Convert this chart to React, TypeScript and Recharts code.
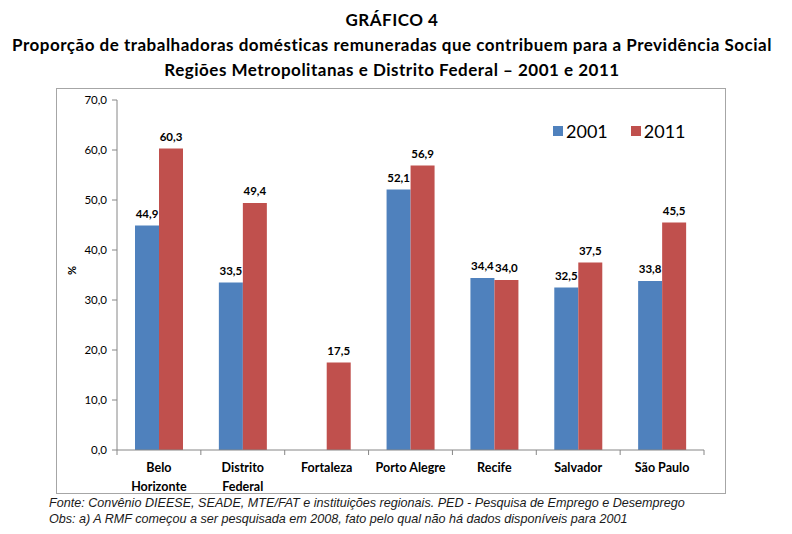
import { BarChart, Bar, XAxis, YAxis, LabelList, Legend } from 'recharts';

const regions = ['Belo Horizonte', 'Distrito Federal', 'Fortaleza', 'Porto Alegre', 'Recife', 'Salvador', 'São Paulo'];
const regionLines = [['Belo', 'Horizonte'], ['Distrito', 'Federal'], ['Fortaleza'], ['Porto Alegre'], ['Recife'], ['Salvador'], ['São Paulo']];
const values2001 = [44.9, 33.5, null, 52.1, 34.4, 32.5, 33.8];
const values2011 = [60.3, 49.4, 17.5, 56.9, 34.0, 37.5, 45.5];
const yTicks = [0, 10, 20, 30, 40, 50, 60, 70];

const BLUE = '#4F81BD';
const RED = '#C0504D';
const AXIS = '#868686';

const data = regions.map((name, i) => ({
    name,
    lines: regionLines[i],
    y2001: values2001[i],
    y2011: values2011[i],
}));

const fmt = (v: number) => v.toFixed(1).replace('.', ',');

// eslint-disable-next-line @typescript-eslint/no-explicit-any
function ValueLabel(props: any) {
    const { x, y, width, value } = props;
    if (value == null) return null;
    return (
        <text x={x + width / 2} y={y - 8} textAnchor="middle" fontFamily="Lato" fontWeight={700} fontSize={11.5} fill="#000">
            {fmt(Number(value))}
        </text>
    );
}

// eslint-disable-next-line @typescript-eslint/no-explicit-any
function CategoryTick(props: any) {
    const { x, y, payload, index, width, visibleTicksCount } = props;
    const half = width / visibleTicksCount / 2;
    const lines: string[] = data[index]?.lines ?? [payload.value];
    return (
        <g>
            {index === 0 && <line x1={x - half} x2={x - half} y1={y - 8} y2={y - 3} stroke={AXIS} />}
            <line x1={x + half} x2={x + half} y1={y - 8} y2={y - 3} stroke={AXIS} />
            {lines.map((l, k) => (
                <text key={k} x={x} y={y + 14 + k * 19} textAnchor="middle" fontFamily="Lato" fontWeight={700} fontSize={12.5} fill="#000">
                    {l}
                </text>
            ))}
        </g>
    );
}

function LegendContent() {
    const items = [
        { label: '2001', color: BLUE },
        { label: '2011', color: RED },
    ];
    return (
        <div style={{ display: 'flex', alignItems: 'center', fontFamily: 'Lato', fontSize: 18, lineHeight: '22px', color: '#000' }}>
            {items.map((it, i) => (
                <div key={it.label} style={{ display: 'flex', alignItems: 'center', marginRight: i === 0 ? 23 : 0 }}>
                    <span style={{ width: 10, height: 10, background: it.color, marginRight: 3, display: 'inline-block' }} />
                    <span>{it.label}</span>
                </div>
            ))}
        </div>
    );
}

export default function App() {
    return (
        <div style={{ position: 'absolute', left: 0, top: 0, width: 792, height: 534, background: '#fff' }}>
            <div style={{ position: 'absolute', left: 0, top: 7, width: 784, textAlign: 'center', fontFamily: 'Lato', fontWeight: 700, fontSize: 17, letterSpacing: 0.5, lineHeight: '25px', color: '#000' }}>
                <div>GRÁFICO 4</div>
                <div>Proporção de trabalhadoras domésticas remuneradas que contribuem para a Previdência Social</div>
                <div>Regiões Metropolitanas e Distrito Federal – 2001 e 2011</div>
            </div>
            <div style={{ position: 'absolute', left: 56, top: 88, width: 670, height: 406, boxSizing: 'border-box', border: '1px solid #A6A6A6' }} />
            <div style={{ position: 'absolute', left: 56, top: 88 }}>
                <BarChart width={670} height={406} data={data} margin={{ top: 12, right: 22, bottom: 0, left: 0 }} barGap={0} barSize={24}>
                    <XAxis
                        dataKey="name"
                        axisLine={{ stroke: AXIS }}
                        tickLine={false}
                        interval={0}
                        tick={<CategoryTick />}
                        height={44}
                    />
                    <YAxis
                        width={61}
                        domain={[0, 70]}
                        ticks={yTicks}
                        tickFormatter={fmt}
                        axisLine={{ stroke: AXIS }}
                        tickLine={{ stroke: AXIS }}
                        tickSize={5}
                        tickMargin={5}
                        tick={{ fontFamily: 'Lato', fontSize: 11.5, fill: '#000' }}
                        label={{ value: '%', angle: -90, position: 'insideLeft', offset: 16, style: { fontFamily: 'Lato', fontWeight: 700, fontSize: 11, fill: '#000' } }}
                    />
                    <Legend
                        layout="horizontal"
                        verticalAlign="middle"
                        align="center"
                        content={<LegendContent />}
                        wrapperStyle={{ position: 'absolute', top: 32, left: 497, width: 200 }}
                    />
                    <Bar dataKey="y2001" name="2001" fill={BLUE} isAnimationActive={false}>
                        <LabelList dataKey="y2001" content={<ValueLabel />} />
                    </Bar>
                    <Bar dataKey="y2011" name="2011" fill={RED} isAnimationActive={false}>
                        <LabelList dataKey="y2011" content={<ValueLabel />} />
                    </Bar>
                </BarChart>
            </div>
            <div style={{ position: 'absolute', left: 49, top: 495, fontFamily: '"Liberation Sans", Arial, sans-serif', fontStyle: 'italic', fontSize: 12.6, lineHeight: '16px', color: '#1a1a1a' }}>
                <div>Fonte: Convênio DIEESE, SEADE, MTE/FAT e instituições regionais. PED - Pesquisa de Emprego e Desemprego</div>
                <div>Obs: a) A RMF começou a ser pesquisada em 2008, fato pelo qual não há dados disponíveis para 2001</div>
            </div>
        </div>
    );
}
